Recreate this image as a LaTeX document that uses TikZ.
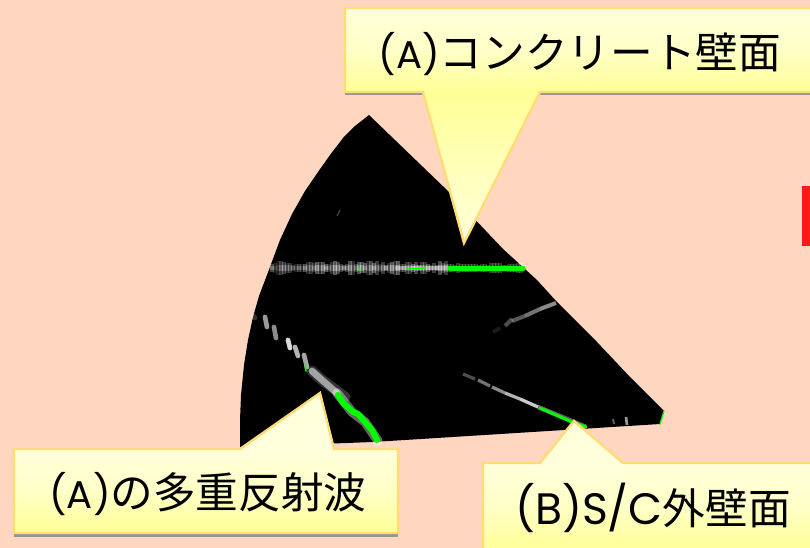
\documentclass[tikz,border=0pt]{standalone}
\usepackage{fontspec}
\newfontfamily\jpfont{Noto Sans CJK JP}
\newfontfamily\latfont{Poppins}
\definecolor{bgpeach}{HTML}{FFD7C1}
\definecolor{calloutline}{HTML}{FFDC78}
\definecolor{lightyel}{HTML}{FFFFDC}
\definecolor{deepyel}{HTML}{FFFF96}
\definecolor{scangreen}{HTML}{00FF00}
\newcommand{\lat}[2][29pt]{{\latfont\fontsize{#1}{34pt}\selectfont #2}}
\tikzset{
  outline/.style={draw=calloutline,line width=1.8pt,line join=miter},
  bandfill/.style={top color=lightyel,bottom color=deepyel,middle color=lightyel!70!deepyel},
  label/.style={font=\jpfont\fontsize{32pt}{36pt}\selectfont,text=black,inner sep=0pt,anchor=center},
  greentrace/.style={draw=scangreen,line cap=round,line join=round},
}
\begin{document}
\begin{tikzpicture}[x=0.75pt,y=-0.75pt]
\useasboundingbox (0,0) rectangle (810,548);
\fill[bgpeach] (0,0) rectangle (810,548);
% red bar at right edge
\fill[red!90!white] (802,186) rectangle (810,246);
% scan fan
\fill[black] (369,115) -- (450,193) -- (503,249) -- (537,280) -- (557,302) -- (597,342) -- (630,377) -- (664,411)
  -- (660,424) -- (373,442) -- (240,447)
  -- (240,420) -- (241,395) -- (244,365) -- (248,340) -- (253,317) -- (259,296) -- (267,275) -- (280,240)
  -- (292,214) -- (305,191) -- (318,172) -- (330,155) -- (343,138) -- (355,126) -- cycle;
\draw[white,opacity=.25,line width=1pt] (337,216) -- (340,210);
% streak 1: horizontal
\pgfmathsetseed{7}
\foreach \x in {272,275,...,446}{
  \pgfmathsetmacro{\op}{0.08+0.2*rnd+0.12*(\x-272)/176}
  \pgfmathsetmacro{\ha}{1.5+2*rnd}
  \draw[white,opacity=\op,line width=3.5pt] (\x,268-\ha) -- (\x,268+\ha);
  \draw[white,opacity=\op,line width=3.5pt] (\x,268-2*\ha) -- (\x,268+2*\ha);
}
\foreach \x in {446,449,...,522}{
  \pgfmathsetmacro{\ha}{3+2.5*rnd}
  \draw[white,opacity=.2,line width=3.5pt] (\x,268-\ha) -- (\x,268+\ha);
}
\draw[white,opacity=.35,line width=3pt] (395,268) -- (450,268);
\draw[greentrace,line width=4pt] (450,268.5) -- (523,268.5);
\draw[greentrace,line width=1pt] (358,267) -- (360,271) (408,269) -- (425,268);
% streak 2: diagonal, dotted upper part
\foreach \a/\b/\c/\d/\op in {253/316/255/318/.2,265/317/267/327/.6,274/327/276/338/.55,288/340/290/348/.85,295/347/298/356/.7,304/355/307/367/.65}{
  \draw[white,opacity=\op,line width=3.5pt,line cap=round] (\a,\b) -- (\c,\d);
}
\draw[white,opacity=.2,line width=8pt,line cap=round] (312,371) -- (322,380) -- (345,397);
\draw[white,opacity=.55,line width=5pt,line cap=round] (312,371) -- (322,380) -- (337,393);
\draw[white,opacity=.4,line width=7pt,line cap=round] (337,393) -- (352,412) -- (365,422) -- (378,441);
\draw[greentrace,line width=4.5pt] (338,395) -- (343,403) -- (353,412) -- (358,414) -- (365,422) -- (372,430) -- (377,440);
\draw[greentrace,line width=1.2pt] (305,366) -- (306,371);
% streak 3: right faint
\foreach \a/\b/\c/\d/\op in {493/332/500/328/.1,505/326/512/319/.3,512/321/525/316/.35,525/316/540/309/.45,540/309/556/303/.55}{
  \draw[white,opacity=\op,line width=3pt] (\a,\b) -- (\c,\d);
}
% streak 4: S/C wall
\foreach \a/\b/\c/\d/\op in {463/374/475/379/.3,478/380/490/386/.45,492/387/505/393/.55,505/393/520/399/.7,520/399/538/407/.8}{
  \draw[white,opacity=\op,line width=2.4pt] (\a,\b) -- (\c,\d);
}
\draw[white,opacity=.4,line width=3.4pt] (538,407) -- (586,427);
\draw[greentrace,line width=2.2pt] (540,408) -- (556,415) -- (572,422) -- (586,427);
% green edge mark
\draw[greentrace,line width=1pt] (664,411) -- (660,424);
% faint speckles at far right
\draw[white,opacity=.6,line width=2pt] (626,417) -- (627,425);
\draw[white,opacity=.35,line width=1.5pt] (613,419) -- (614,424);

% callout A (top)
\fill[black!42] (345,92) rectangle (424,95);
\fill[black!42] (540,92) rectangle (810,95);
\shade[top color=deepyel,bottom color=lightyel] (423,92) -- (540,92) -- (464,243) -- cycle;
\shade[bandfill] (345,8) rectangle (812,92);
\draw[outline] (812,8) -- (345,8) -- (345,92) -- (423,92) -- (464,243) -- (540,92) -- (812,92);
\node[label] (wall) at (580,54) {\lat{(A)}コンクリート壁面};

% callout C (lower left)
\fill[black!42] (14,533) rectangle (398,537);
\fill[lightyel] (240,449) -- (320,393) -- (334,449) -- cycle;
\shade[bandfill] (14,449) rectangle (398,533);
\draw[outline] (14,449) -- (240,449) -- (320,393) -- (334,449) -- (398,449) -- (398,533) -- (14,533) -- cycle;
\node[label] (multi) at (208,494) {\lat{(A)}の多重反射波};

% callout B (lower right)
\fill[lightyel] (540,463) -- (574,421) -- (623,463) -- cycle;
\shade[bandfill] (483,463) rectangle (812,550);
\draw[outline] (483,550) -- (483,463) -- (540,463) -- (574,421) -- (623,463) -- (812,463);
\node[label] (outer) at (653,508) {\lat[33pt]{(B)S/C}外壁面};
\end{tikzpicture}
\end{document}
